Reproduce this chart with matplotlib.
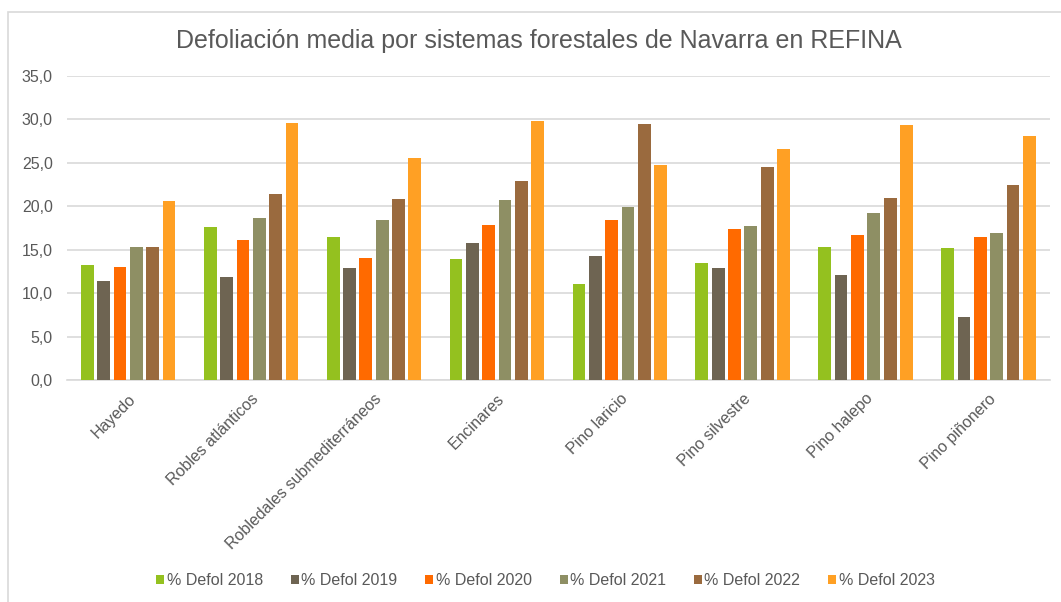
import numpy as np
import matplotlib
matplotlib.use("Agg")
import matplotlib.pyplot as plt
from matplotlib.patches import Rectangle
from matplotlib.ticker import FuncFormatter

plt.rcParams['font.family'] = ['Liberation Sans', 'DejaVu Sans']

categories = ["Hayedo", "Robles atlánticos", "Robledales submediterráneos", "Encinares",
              "Pino laricio", "Pino silvestre", "Pino halepo", "Pino piñonero"]
series_names = ["% Defol 2018", "% Defol 2019", "% Defol 2020",
                "% Defol 2021", "% Defol 2022", "% Defol 2023"]
defol_2018 = [13.2, 17.6, 16.5, 13.9, 11.1, 13.5, 15.3, 15.2]
defol_2019 = [11.4, 11.8, 12.9, 15.8, 14.3, 12.9, 12.1, 7.3]
defol_2020 = [13.0, 16.1, 14.1, 17.9, 18.4, 17.4, 16.7, 16.5]
defol_2021 = [15.3, 18.7, 18.4, 20.7, 19.9, 17.7, 19.2, 16.9]
defol_2022 = [15.3, 21.4, 20.8, 22.9, 29.5, 24.5, 20.9, 22.5]
defol_2023 = [20.6, 29.6, 25.5, 29.8, 24.8, 26.6, 29.3, 28.1]
series = [defol_2018, defol_2019, defol_2020, defol_2021, defol_2022, defol_2023]
colors = ["#94C11F", "#6E6452", "#FF6A00", "#8E8F64", "#9A6A3E", "#FFA024"]

text_color = "#595959"

fig = plt.figure(figsize=(10.61, 6.02), dpi=100)
ax = fig.add_axes([0.0629, 0.3688, 0.9267, 0.505])

x = np.arange(len(categories))
pitch = 0.133
width = 0.104
for i, (vals, name, c) in enumerate(zip(series, series_names, colors)):
    ax.bar(x + (i - 2.5) * pitch, vals, width, color=c, label=name, zorder=3)

ax.set_ylim(0, 35)
ax.set_xlim(-0.5, len(categories) - 0.5)
ax.set_yticks(np.arange(0, 36, 5))
ax.yaxis.set_major_formatter(FuncFormatter(lambda v, p: f"{v:.1f}".replace(".", ",")))
ax.grid(axis='y', color="#D9D9D9", linewidth=1.2, zorder=0)
for s in ["top", "right", "left"]:
    ax.spines[s].set_visible(False)
ax.spines["bottom"].set_color("#D9D9D9")
ax.spines["bottom"].set_linewidth(1.2)
ax.tick_params(axis='both', length=0, colors=text_color, labelsize=11.5)
ax.tick_params(axis='y', pad=10)
ax.tick_params(axis='x', pad=8)
ax.set_xticks(x)
ax.set_xticklabels(categories, rotation=45, ha='right', rotation_mode='anchor')

fig.text(0.508, 0.92, "Defoliación media por sistemas forestales de Navarra en REFINA",
         ha='center', va='baseline', fontsize=18, color=text_color)

fig.legend(loc='center', bbox_to_anchor=(0.514, 0.036), ncol=6, frameon=False,
           fontsize=11.5, labelcolor=text_color, handlelength=0.5, handleheight=0.5,
           handletextpad=0.15, columnspacing=1.75)

fig.patches.append(Rectangle((8 / 1061, -0.01), 1.1, 1 - 12 / 602 + 0.01,
                             transform=fig.transFigure, fill=False,
                             edgecolor="#D9D9D9", linewidth=1.2))

fig.savefig("out.png", dpi=100)
